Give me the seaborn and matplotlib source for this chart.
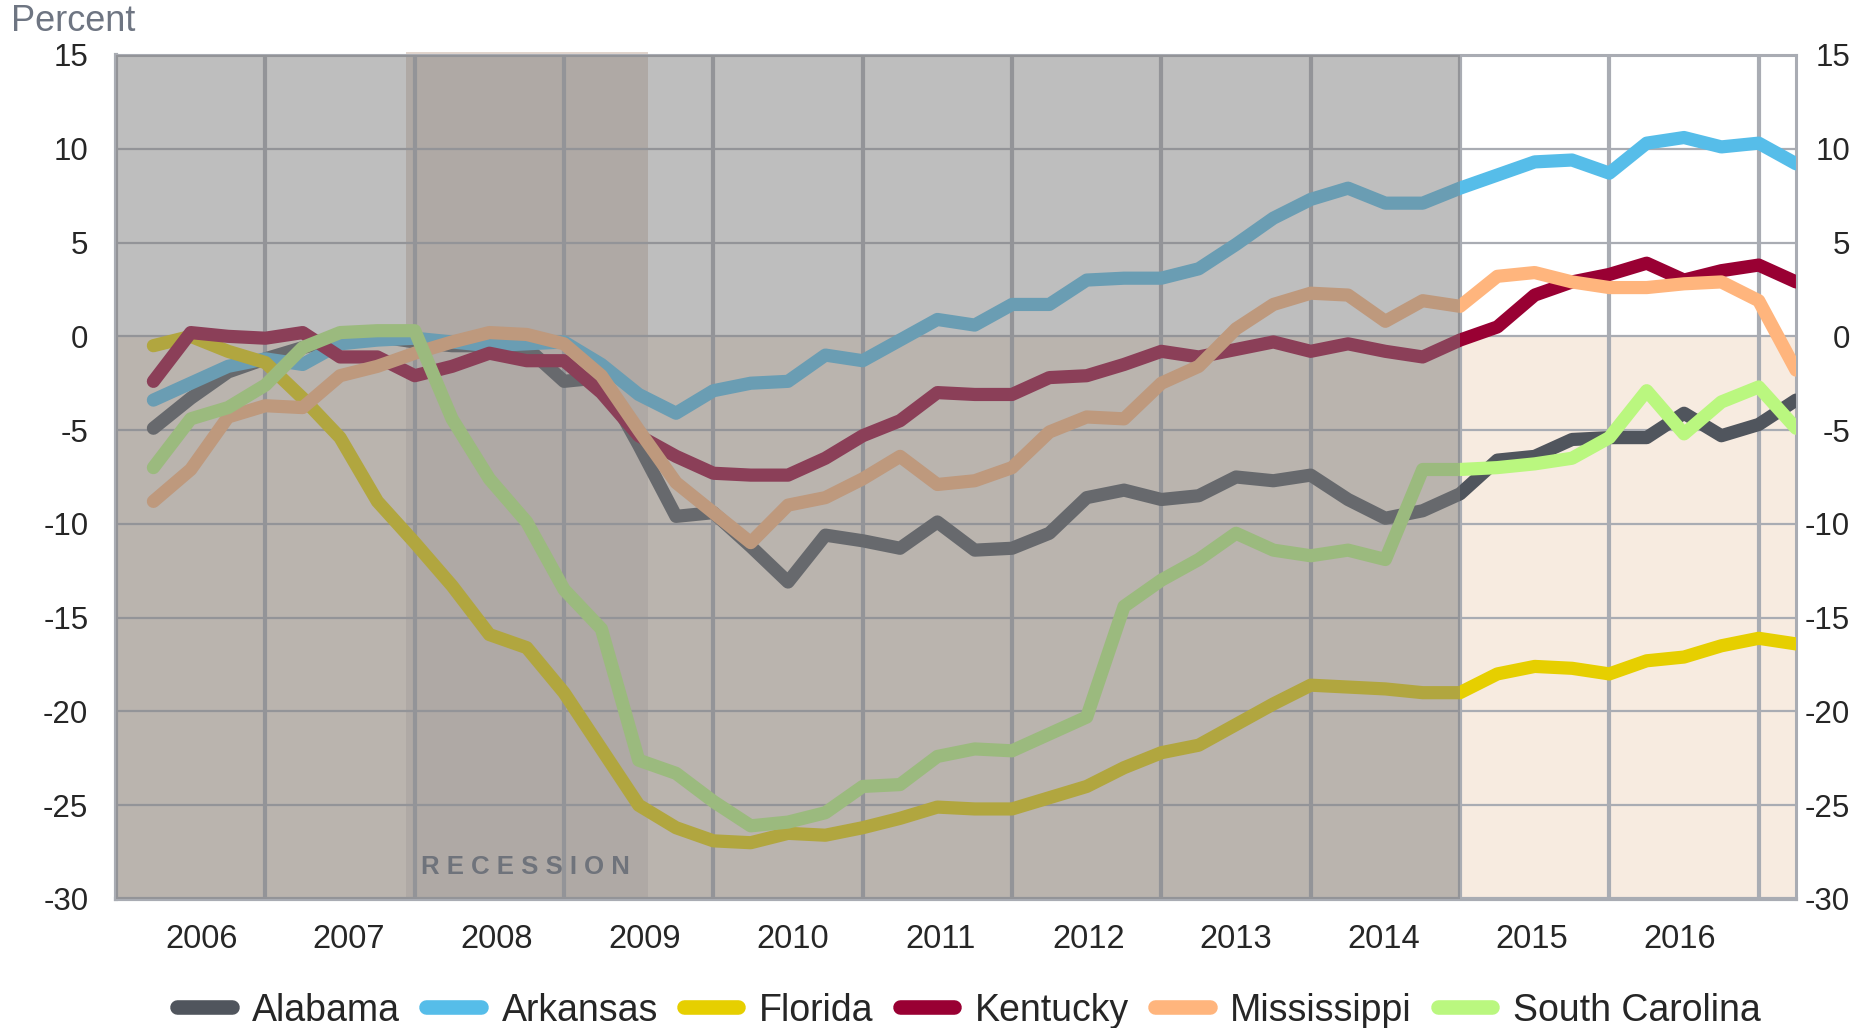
import numpy as np
import pandas as pd
import matplotlib
matplotlib.use("Agg")
import matplotlib.pyplot as plt
from matplotlib.lines import Line2D
import seaborn as sns

# quarterly change, percent; points sit at the end of each quarter
quarters = pd.period_range("2006Q1", "2017Q1", freq="Q")
states = ["Alabama", "Arkansas", "Florida", "Kentucky", "Mississippi", "South Carolina"]
colors = ["#50555d", "#56bde9", "#e6cf00", "#990033", "#ffb57d", "#baf77f"]

alabama = [-4.9, -3.3, -1.9, -1.2, -0.6, -0.1, 0.0, -0.3, -0.5, -0.5, -0.6, -2.4,
           -2.2, -5.8, -9.6, -9.4, -11.2, -13.1, -10.6, -10.9, -11.3, -9.9, -11.4, -11.3,
           -10.5, -8.6, -8.2, -8.7, -8.5, -7.5, -7.7, -7.4, -8.7, -9.7, -9.3, -8.4,
           -6.6, -6.4, -5.5, -5.4, -5.4, -4.1, -5.3, -4.7, -3.4]
arkansas = [-3.4, -2.5, -1.6, -1.2, -1.5, -0.4, -0.2, -0.1, -0.3, -0.5, -0.4, -0.3,
            -1.5, -3.1, -4.1, -2.9, -2.5, -2.4, -1.0, -1.3, -0.2, 0.9, 0.6, 1.7,
            1.7, 3.0, 3.1, 3.1, 3.6, 4.9, 6.3, 7.3, 7.9, 7.1, 7.1, 7.9,
            8.6, 9.3, 9.4, 8.7, 10.3, 10.6, 10.1, 10.3, 9.2]
florida = [-0.5, 0.0, -0.8, -1.4, -3.3, -5.4, -8.8, -11.0, -13.3, -15.9, -16.6, -19.0,
           -22.0, -25.0, -26.2, -26.9, -27.0, -26.5, -26.6, -26.2, -25.7, -25.1, -25.2, -25.2,
           -24.6, -24.0, -23.0, -22.2, -21.8, -20.7, -19.6, -18.6, -18.7, -18.8, -19.0, -19.0,
           -18.0, -17.6, -17.7, -18.0, -17.3, -17.1, -16.5, -16.1, -16.4]
kentucky = [-2.4, 0.2, 0.0, -0.1, 0.2, -1.1, -1.1, -2.1, -1.6, -0.9, -1.3, -1.3,
            -3.0, -5.3, -6.4, -7.3, -7.4, -7.4, -6.5, -5.3, -4.5, -3.0, -3.1, -3.1,
            -2.2, -2.1, -1.5, -0.8, -1.1, -0.7, -0.3, -0.8, -0.4, -0.8, -1.1, -0.2,
            0.5, 2.2, 2.9, 3.3, 3.9, 3.0, 3.5, 3.8, 2.9]
mississippi = [-8.8, -7.1, -4.3, -3.7, -3.8, -2.1, -1.6, -0.9, -0.3, 0.2, 0.1, -0.4,
               -2.1, -5.0, -7.8, -9.4, -11.0, -9.0, -8.6, -7.6, -6.4, -7.9, -7.7, -7.0,
               -5.1, -4.3, -4.4, -2.5, -1.6, 0.4, 1.7, 2.3, 2.2, 0.8, 1.9, 1.6,
               3.2, 3.4, 2.9, 2.6, 2.6, 2.8, 2.9, 1.9, -1.8]
south_carolina = [-7.0, -4.4, -3.8, -2.6, -0.6, 0.2, 0.3, 0.3, -4.4, -7.6, -9.9, -13.5,
                  -15.6, -22.6, -23.3, -24.8, -26.1, -25.9, -25.4, -24.0, -23.9, -22.4, -22.0, -22.1,
                  -21.2, -20.3, -14.4, -13.0, -11.9, -10.5, -11.4, -11.7, -11.4, -11.9, -7.1, -7.1,
                  -7.0, -6.8, -6.5, -5.4, -2.9, -5.2, -3.5, -2.7, -4.9]

years = list(range(2006, 2017))
y_ticks = list(range(-30, 20, 5))
recession = (2007.94, 2009.56)
forecast_start = 2015

x = np.asarray(quarters.year + quarters.quarter / 4, dtype=float)
series = [alabama, arkansas, florida, kentucky, mississippi, south_carolina]
df = pd.DataFrame({
    "date": np.tile(x, len(states)),
    "state": np.repeat(states, len(x)),
    "value": np.concatenate(series),
})

sns.set_style("white")
plt.rcParams["font.family"] = ["Liberation Sans", "DejaVu Sans"]
plt.rcParams["axes.unicode_minus"] = False

grid_c = "#a9acb3"
fig = plt.figure(figsize=(18.6, 10.28), dpi=100)
ax = fig.add_axes([0.0624, 0.1255, 0.9032, 0.8210])
ax.set_xlim(2006, 2017.25)
ax.set_ylim(-30, 15)

# backgrounds: peach below zero, recession band
ax.axhspan(-30, 0, color="#f7ebe0", lw=0, zorder=0.1)
ax.axvspan(*recession, ymin=0, ymax=1.004, color="#e1d5cd", lw=0, zorder=0.2, clip_on=False)

ax.set_axisbelow(True)
ax.set_yticks(y_ticks)
# year labels sit a touch inside the year, as in the original category axis
ax.set_xticks(np.linspace(2006.57, 2016.47, len(years)))
ax.set_xticklabels([str(y) for y in years])
ax.set_xticks(range(2007, 2018), minor=True)
ax.grid(which="major", axis="y", color=grid_c, lw=1.6)
ax.grid(which="minor", axis="x", color=grid_c, lw=3)
ax.grid(which="major", axis="x", visible=False)

sns.lineplot(data=df, x="date", y="value", hue="state", hue_order=states,
             palette=colors, linewidth=9.5, errorbar=None, legend=False, ax=ax, zorder=3)
for ln in ax.lines:
    ln.set_solid_capstyle("round")
    ln.set_solid_joinstyle("round")

# history is greyed out
ax.axvspan(2006, forecast_start, color="#7e7e7e", alpha=0.5, lw=0, zorder=4)

ax.text(2008.04, -28.3, "R E C E S S I O N", fontsize=18.5, fontweight="bold",
        color="#6f737b", va="center", ha="left", zorder=6)

ax.set_xlabel("")
ax.set_ylabel("")
ax.tick_params(axis="both", which="both", length=0)
ax.tick_params(axis="y", labelsize=22.5, pad=20)
ax.tick_params(axis="x", labelsize=23.5, pad=18)
for side, w in [("left", 3), ("bottom", 3), ("top", 2.2), ("right", 2.2)]:
    ax.spines[side].set_visible(True)
    ax.spines[side].set_color(grid_c)
    ax.spines[side].set_linewidth(w)

ax2 = ax.twinx()
ax2.set_ylim(-30, 15)
ax2.set_yticks(y_ticks)
ax2.tick_params(axis="y", length=0, labelsize=22.5, pad=39)
for lbl in ax2.get_yticklabels():
    lbl.set_horizontalalignment("right")
for s in ax2.spines.values():
    s.set_visible(False)
ax2.grid(False)

fig.text(0.006, 0.979, "Percent", fontsize=26, color="#6e7582", va="center", ha="left")

handles = [Line2D([0], [0], color=c, lw=10.5, solid_capstyle="round") for c in colors]
fig.legend(handles, states, loc="center", bbox_to_anchor=(0.521, 0.017), ncol=6,
           frameon=False, fontsize=27, handlelength=1.45, handletextpad=0.55,
           columnspacing=0.7)

fig.savefig("out.png", dpi=100)
